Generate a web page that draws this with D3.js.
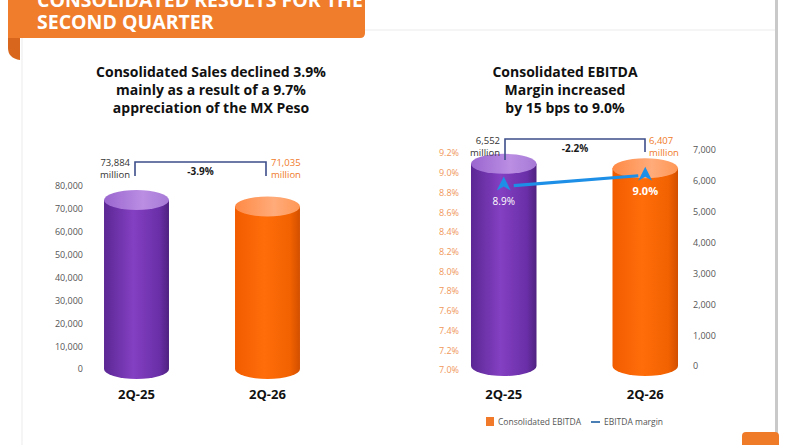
<!DOCTYPE html>
<html>
<head>
<meta charset="utf-8">
<script src="https://cdn.jsdelivr.net/npm/d3@7"></script>
<style>
  body { margin: 0; background: #fff; }
  svg { display: block; font-family: "Open Sans", sans-serif; }
</style>
</head>
<body>
<div id="okvir"></div>
<script>
// podaci
const kategorije = ["2Q-25", "2Q-26"];
const prodaja = [73884, 71035];           // Consolidated Sales, million
const ebitda = [6552, 6407];              // Consolidated EBITDA, million
const marza = [8.9, 9.0];                 // EBITDA margin, %
const prodajaOznake = ["73,884", "71,035"];
const ebitdaOznake = ["6,552", "6,407"];
const marzaOznake = ["8.9%", "9.0%"];
const prodajaTicks = [0, 10000, 20000, 30000, 40000, 50000, 60000, 70000, 80000];
const ebitdaTicks = [0, 1000, 2000, 3000, 4000, 5000, 6000, 7000];
const marzaTicks = [7.0, 7.2, 7.4, 7.6, 7.8, 8.0, 8.2, 8.4, 8.6, 8.8, 9.0, 9.2];
const promjene = ["-3.9%", "-2.2%"];

const sirina = 800, visina = 445;
const svg = d3.select("#okvir").append("svg")
    .attr("width", sirina)
    .attr("height", visina);

const defs = svg.append("defs");
function gradijent(id, boje) {
    const g = defs.append("linearGradient").attr("id", id)
        .attr("x1", "0%").attr("x2", "100%").attr("y1", "0%").attr("y2", "0%");
    boje.forEach(b => g.append("stop").attr("offset", b[0]).attr("stop-color", b[1]));
}
gradijent("ljubTijelo", [["0%", "#5b2794"], ["45%", "#8440c2"], ["85%", "#6a2fa8"], ["100%", "#4f2280"]]);
gradijent("ljubVrh", [["0%", "#9a66cf"], ["60%", "#bb8ee3"], ["100%", "#a679d6"]]);
gradijent("narTijelo", [["0%", "#f25c00"], ["45%", "#ff6d0a"], ["85%", "#f26200"], ["100%", "#d24f00"]]);
gradijent("narVrh", [["0%", "#ff8a45"], ["60%", "#ffab7a"], ["100%", "#ff9755"]]);
const tijela = ["url(#ljubTijelo)", "url(#narTijelo)"];
const vrhovi = ["url(#ljubVrh)", "url(#narVrh)"];

// kartica i traka naslova
svg.append("rect").attr("x", 22).attr("y", 30).attr("width", 754).attr("height", 420)
    .attr("fill", "#fff").attr("stroke", "#ececec");
svg.append("rect").attr("x", 775).attr("y", 0).attr("width", 3).attr("height", 440).attr("fill", "#c9c9c9");
svg.append("path").attr("d", "M742,445 V436 Q742,432 746,432 H775 Q779,432 779,436 V445 Z").attr("fill", "#ef7a28");
svg.append("path").attr("d", "M8,30 H20 V60 Q8,58 8,48 Z").attr("fill", "#d8661c");
svg.append("path").attr("d", "M8,0 H365 V33 Q365,38 360,38 H8 Z").attr("fill", "#ef7d2c");
svg.append("text").attr("x", 37).attr("y", 7).attr("fill", "#fff")
    .style("font-size", "19.5px").style("font-weight", 700).text("CONSOLIDATED RESULTS FOR THE");
svg.append("text").attr("x", 37).attr("y", 29).attr("fill", "#fff")
    .style("font-size", "19.5px").style("font-weight", 700).text("SECOND QUARTER");

function naslov(x, linije) {
    svg.append("text").attr("x", x).attr("y", 77)
        .attr("text-anchor", "middle").attr("fill", "#111")
        .style("font-size", "14px").style("font-weight", 700)
        .selectAll("tspan").data(linije).join("tspan")
            .attr("x", x).attr("dy", (d, i) => i ? 18 : 0).text(d => d);
}
naslov(211, ["Consolidated Sales declined 3.9%", "mainly as a result of a 9.7%", "appreciation of the MX Peso"]);
naslov(565, ["Consolidated EBITDA", "Margin increased", "by 15 bps to 9.0%"]);

// valjak
const ry = 10;
function valjak(g, cx, w, yVrh, yDno, i) {
    const rx = w / 2;
    g.append("path")
        .attr("d", `M${cx - rx},${yVrh} V${yDno} A${rx},${ry} 0 0 0 ${cx + rx},${yDno} V${yVrh} Z`)
        .attr("fill", tijela[i]);
    g.append("ellipse").attr("cx", cx).attr("cy", yVrh).attr("rx", rx).attr("ry", ry)
        .attr("fill", vrhovi[i]);
}

function zagrada(x1, x2, y, dno1, dno2, tekst) {
    svg.append("path")
        .attr("d", `M${x1},${dno1} V${y} H${x2} V${dno2}`)
        .attr("fill", "none").attr("stroke", "#3d4e8a").attr("stroke-width", 1.6);
    svg.append("text").attr("x", (x1 + x2) / 2).attr("y", y + 13)
        .attr("text-anchor", "middle").attr("fill", "#1a1a1a")
        .style("font-size", "10px").style("font-weight", 700).text(tekst);
}

function oznaka(x, y, vr, boja, anchor) {
    const g = svg.append("g").attr("fill", boja).attr("text-anchor", anchor).style("font-size", "9.5px");
    g.append("text").attr("x", x).attr("y", y - 1).text(vr);
    g.append("text").attr("x", x).attr("y", y + 11).text("million");
}

// ---------------- lijevi graf ----------------
const xL = d3.scaleBand().domain(kategorije).range([38, 366]).paddingInner(0.504).paddingOuter(0.504);
const yL = d3.scaleLinear().domain([0, 80000]).range([369, 186]);

const osL = svg.append("g").attr("transform", "translate(86,0)")
    .call(d3.axisLeft(yL).tickValues(prodajaTicks).tickSize(0).tickFormat(d3.format(",")));
osL.select(".domain").remove();
osL.selectAll("text").attr("fill", "#555").style("font-size", "9px").style("font-family", "Open Sans");

const gL = svg.append("g");
prodaja.forEach((v, i) => {
    const k = kategorije[i];
    valjak(gL, xL(k) + xL.bandwidth() / 2, xL.bandwidth(), yL(v), yL(0), i);
});

const osLx = svg.append("g").attr("transform", "translate(0,392)")
    .call(d3.axisBottom(xL).tickSize(0));
osLx.select(".domain").remove();
osLx.selectAll("text").attr("fill", "#111").style("font-size", "13px").style("font-weight", 700)
    .style("font-family", "Open Sans").attr("dy", "0.3em");

zagrada(135, 266, 162, 176, 176, promjene[0]);
oznaka(130, 167, prodajaOznake[0], "#333", "end");
oznaka(271, 167, prodajaOznake[1], "#f07a2a", "start");

// ---------------- desni graf ----------------
const xR = d3.scaleBand().domain(kategorije).range([395, 754]).paddingInner(0.537).paddingOuter(0.537);
const yR = d3.scaleLinear().domain([0, 7000]).range([366, 150]);
const yP = d3.scaleLinear().domain([7.0, 9.2]).range([370, 153]);

const osP = svg.append("g").attr("transform", "translate(462,0)")
    .call(d3.axisLeft(yP).tickValues(marzaTicks).tickSize(0).tickFormat(d => d3.format(".1f")(d) + "%"));
osP.select(".domain").remove();
osP.selectAll("text").attr("fill", "#f0975a").style("font-size", "9px").style("font-family", "Open Sans");

const osR = svg.append("g").attr("transform", "translate(690,0)")
    .call(d3.axisRight(yR).tickValues(ebitdaTicks).tickSize(0).tickFormat(d3.format(",")));
osR.select(".domain").remove();
osR.selectAll("text").attr("fill", "#555").style("font-size", "9px").style("font-family", "Open Sans");

const gR = svg.append("g");
ebitda.forEach((v, i) => {
    const k = kategorije[i];
    valjak(gR, xR(k) + xR.bandwidth() / 2, xR.bandwidth(), yR(v), yR(0), i);
});

const osRx = svg.append("g").attr("transform", "translate(0,392)")
    .call(d3.axisBottom(xR).tickSize(0));
osRx.select(".domain").remove();
osRx.selectAll("text").attr("fill", "#111").style("font-size", "13px").style("font-weight", 700)
    .style("font-family", "Open Sans").attr("dy", "0.3em");

// linija marze
const tocke = marza.map((m, i) => [xR(kategorije[i]) + xR.bandwidth() / 2, yP(m)]);
svg.append("path")
    .attr("d", d3.line()(tocke.map((p, i) => [p[0] + (i ? -7 : 10), p[1] + 3])))
    .attr("stroke", "#1e8fe6").attr("stroke-width", 3.2).attr("fill", "none");
const strelica = "M0,-8 L7,6 L0,2 L-7,6 Z";
svg.selectAll(".marker").data(tocke).join("path")
    .attr("class", "marker")
    .attr("d", strelica)
    .attr("transform", d => `translate(${d[0]},${d[1] + 2})`)
    .attr("fill", "#1e8fe6");
svg.selectAll(".mLabel").data(tocke).join("text")
    .attr("class", "mLabel")
    .attr("x", d => d[0]).attr("y", d => d[1] + 22)
    .attr("text-anchor", "middle").attr("fill", "#fff")
    .style("font-size", (d, i) => i ? "11px" : "10px")
    .style("font-weight", (d, i) => i ? 700 : 400)
    .text((d, i) => marzaOznake[i]);

zagrada(505, 645, 139, 160, 152, promjene[1]);
oznaka(500, 145, ebitdaOznake[0], "#333", "end");
oznaka(649, 145, ebitdaOznake[1], "#f07a2a", "start");

// legenda
const leg = svg.append("g").attr("transform", "translate(486,418)");
leg.append("rect").attr("width", 8).attr("height", 9).attr("y", -1).attr("fill", "#f07a2a");
leg.append("text").attr("x", 12).attr("y", 7).attr("fill", "#555").style("font-size", "8.5px").text("Consolidated EBITDA");
leg.append("rect").attr("x", 105).attr("y", 3).attr("width", 9).attr("height", 2).attr("fill", "#4a7fb5");
leg.append("text").attr("x", 118).attr("y", 7).attr("fill", "#555").style("font-size", "8.5px").text("EBITDA margin");
</script>
</body>
</html>
